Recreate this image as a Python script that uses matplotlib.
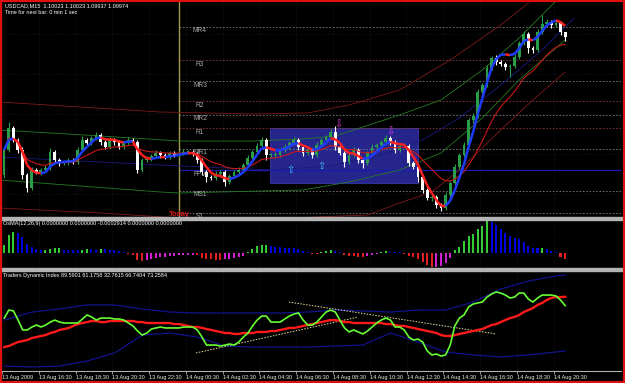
import numpy as np
import pandas as pd
import matplotlib
matplotlib.use("Agg")
import matplotlib.pyplot as plt
from matplotlib.patches import Rectangle
from matplotlib.collections import LineCollection

plt.rcParams['font.family'] = ['Liberation Sans', 'DejaVu Sans']

# USDCAD M15, prices kept as pips above BASE
BASE = 1.0800
first_open = 59
close_pips = [84, 106, 94, 84, 59, 46, 64, 62, 64, 66,
              82, 74, 71, 71, 74, 72, 84, 94, 91, 96,
              99, 92, 87, 94, 92, 87, 91, 94, 92, 64,
              74, 75, 78, 81, 79, 77, 81, 79, 81, 82,
              82, 80, 74, 62, 57, 56, 60, 62, 52, 58,
              62, 64, 69, 76, 82, 88, 94, 79, 79, 79,
              84, 87, 91, 94, 87, 81, 84, 79, 89, 94,
              97, 102, 87, 81, 72, 79, 84, 74, 71, 81,
              87, 89, 92, 96, 92, 84, 88, 88, 71, 67,
              57, 44, 36, 37, 29, 26, 39, 51, 67, 79,
              89, 114, 118, 142, 149, 166, 176, 172, 170, 167,
              168, 177, 191, 200, 186, 184, 202, 210, 212, 209,
              211, 202, 197]
wick_up = [3, 6, 2, 2, 3, 2, 3, 2, 2, 3,
           4, 2, 2, 1, 2, 2, 3, 4, 2, 2,
           3, 2, 2, 3, 2, 2, 2, 3, 2, 2,
           2, 3, 2, 3, 2, 2, 2, 2, 2, 3,
           2, 2, 2, 2, 2, 2, 3, 2, 2, 2,
           2, 3, 2, 3, 2, 3, 3, 2, 2, 3,
           2, 3, 2, 3, 2, 2, 3, 2, 3, 2,
           2, 3, 6, 2, 2, 2, 3, 2, 2, 2,
           3, 2, 2, 3, 2, 2, 3, 2, 2, 2,
           2, 2, 2, 2, 2, 2, 3, 2, 3, 2,
           3, 2, 3, 3, 2, 3, 2, 3, 2, 2,
           2, 3, 2, 3, 2, 2, 3, 9, 3, 2,
           2, 2, 0]
wick_dn = [3, 2, 2, 3, 4, 4, 2, 2, 3, 2,
           2, 2, 3, 2, 2, 2, 2, 2, 3, 2,
           2, 3, 2, 2, 3, 2, 2, 2, 2, 3,
           2, 2, 2, 2, 3, 2, 2, 2, 2, 2,
           2, 2, 3, 3, 5, 2, 2, 3, 4, 2,
           2, 2, 2, 2, 2, 2, 2, 5, 2, 3,
           2, 2, 2, 2, 3, 3, 2, 3, 2, 2,
           2, 2, 3, 2, 5, 2, 2, 3, 5, 2,
           2, 2, 2, 2, 3, 3, 2, 2, 3, 2,
           5, 3, 2, 3, 3, 3, 2, 2, 2, 2,
           2, 2, 3, 2, 2, 2, 2, 3, 2, 3,
           10, 2, 2, 2, 5, 3, 2, 2, 2, 3,
           2, 3, 4]

pivot_names = ['MR4', 'R3', 'MR3', 'R2', 'MR2', 'R1', 'MR1', 'FPV', 'MS1', 'S1']
pivot_pips = [207, 174, 153, 133, 119, 106, 85, 64, 43, 21]

# regression channel curves (bar index, pips)
green_up_bar = [-1, 21, 38, 54, 65, 72, 86, 95, 104, 112, 120]
green_up_pips = [104, 98, 93, 93, 95, 98, 119, 134, 164, 196, 233]
green_dn_bar = [-1, 34, 38, 65, 75, 86, 95, 104, 112, 122]
green_dn_pips = [54, 42, 41, 44, 52, 64, 81, 116, 154, 194]
red_up_bar = [-1, 34, 54, 66, 75, 86, 97, 108, 114]
red_up_pips = [132, 122, 120, 121, 129, 144, 174, 209, 231]
red_dn_bar = [-1, 21, 38, 62, 79, 86, 93, 99, 108, 115, 122]
red_dn_pips = [26, 21, 16, 16, 19, 31, 42, 64, 104, 134, 162]
blue_mid_bar = [-1, 34, 58, 71, 82, 91, 99, 108, 117, 124]
blue_mid_pips = [77, 69, 64, 68, 79, 94, 116, 149, 184, 216]

up_arrow_bar = [62.2, 69.0]
up_arrow_pips = [64, 68]
dn_arrow_bar = [72.6, 84.0]
dn_arrow_pips = [110, 103]

# OsMA(12,26,9), units of 1e-5
osma = [8, 18, 21, 20, 16, 9, 6, 4, 3, 3.2,
        3.6, 4.8, 5.2, 3.5, 3.3, 3.1, 2.8, 3.3, 4.2, 3.8,
        3.4, 4.5, 4.0, 3.5, 3.0, 2.2, 0.8, -0.8, -2, -6.5,
        -8, -7.2, -6.2, -5.2, -4.4, -3.8, -3.2, -2.8, -2.4, -2.1,
        -1.8, -1.6, -2.2, -4.5, -5.5, -6.2, -6.8, -7.0, -6.4, -5.8,
        -5.0, -4.2, -3.0, 1.5, 4.5, 7, 8, 8.3, 7.2, 6.4,
        5.8, 5.4, 5.1, 4.8, 4.0, 2.5, 1.2, -0.6, -1.0, 0.8,
        2, 3.2, 2.2, 0.8, -1.8, -2.6, -3.2, -3.8, -4.2, -3.4,
        -2.4, -1.2, 0.8, 1.8, 1.4, 1.0, 0.6, -0.8, -2.5, -4,
        -6, -9, -12, -14, -13.8, -12.5, -10, -5, 3, 6,
        12, 17, 19, 24, 27, 32, 31, 28, 24, 20,
        17, 15, 14, 11, 7, 5, 4.6, 5.0, 3.8, 2.2,
        1, -4, -6]

# Traders Dynamic Index
tdi_green = [57.4, 63.4, 62.7, 55.9, 48.5, 48.5, 50.7, 52.2, 50.7, 52.2,
             54.4, 55.9, 54.4, 53.7, 53.7, 53.7, 53.7, 56.7, 59.7, 58.2,
             55.9, 57.4, 57.4, 57.4, 56.7, 56.7, 55.9, 53.7, 51.5, 47.7,
             44.7, 46.2, 49.2, 50.0, 50.7, 50.0, 50.0, 50.0, 50.0, 50.7,
             50.7, 50.7, 48.5, 43.2, 37.2, 37.2, 37.2, 36.5, 37.2, 38.0,
             37.2, 39.5, 43.2, 46.2, 51.5, 55.9, 58.9, 58.9, 54.4, 54.4,
             54.4, 56.7, 58.9, 60.4, 61.2, 55.9, 52.2, 52.2, 54.4, 58.2,
             61.9, 63.4, 61.9, 55.9, 50.0, 47.0, 48.5, 47.0, 45.5, 47.7,
             50.7, 53.7, 55.9, 57.4, 55.9, 50.7, 50.7, 48.5, 43.2, 41.0,
             41.7, 39.5, 32.8, 29.8, 30.5, 29.0, 29.8, 37.2, 51.5, 57.4,
             59.7, 65.7, 67.9, 68.7, 69.4, 73.1, 75.4, 76.9, 76.1, 74.6,
             72.4, 73.1, 76.1, 76.1, 71.6, 69.4, 72.4, 74.6, 74.6, 74.6,
             73.9, 70.9, 66.7]
tdi_red = [35.7, 36.5, 38.0, 39.5, 40.2, 41.0, 42.5, 43.2, 44.0, 44.7,
           46.2, 47.0, 48.5, 49.2, 50.0, 51.5, 52.9, 53.7, 54.4, 55.2,
           55.2, 54.4, 54.4, 55.2, 55.2, 55.2, 55.2, 55.2, 55.2, 54.4,
           54.4, 53.7, 53.7, 53.7, 53.7, 53.7, 53.7, 52.9, 52.9, 52.2,
           51.5, 50.7, 50.7, 50.0, 49.2, 48.5, 47.7, 47.0, 46.2, 46.2,
           45.5, 45.5, 46.2, 46.2, 46.2, 47.0, 47.0, 47.0, 47.7, 47.7,
           48.5, 49.2, 50.0, 50.0, 50.7, 51.5, 52.2, 52.9, 53.7, 54.4,
           55.2, 55.9, 55.9, 55.2, 54.4, 54.4, 53.7, 53.7, 53.7, 53.7,
           53.7, 53.7, 53.7, 52.9, 52.9, 52.2, 51.5, 51.5, 50.7, 50.0,
           49.2, 48.5, 47.7, 47.0, 46.2, 44.7, 44.0, 44.0, 44.7, 45.5,
           46.2, 47.0, 47.7, 48.5, 49.2, 50.7, 52.2, 52.9, 54.4, 55.9,
           57.4, 58.2, 59.7, 61.9, 63.4, 64.9, 67.2, 68.7, 70.9, 72.4,
           73.1, 73.1, 73.3]
band_bar = [0, 6, 12, 18, 24, 30, 36, 42, 48, 54, 60, 66, 72, 78, 84, 90, 96, 102, 108, 114, 120, 122]
band_up = [55.9, 61.9, 64.2, 67.2, 67.2, 64.2, 61.9, 61.2, 61.2, 61.2, 61.2,
           61.9, 63.4, 62.7, 61.9, 63.4, 63.4, 69.4, 79.1, 85.1, 88.9, 89.6]
band_dn = [21.5, 20.8, 21.5, 25.3, 31.3, 44.7, 46.2, 43.2, 36.5, 35.7, 35.7,
           35.7, 36.5, 37.2, 46.2, 39.5, 32.0, 29.8, 28.3, 29.8, 32.0, 32.8]
trend1_bar, trend1_val = [41.7, 77.0], [31.3, 58.2]
trend2_bar, trend2_val = [61.9, 107.0], [69.4, 45.5]

time_labels = ['13 Aug 2009', '13 Aug 16:30', '13 Aug 18:30', '13 Aug 20:30',
               '13 Aug 22:30', '14 Aug 00:30', '14 Aug 02:30', '14 Aug 04:30',
               '14 Aug 06:30', '14 Aug 08:30', '14 Aug 10:30', '14 Aug 12:30',
               '14 Aug 14:30', '14 Aug 16:30', '14 Aug 18:30', '14 Aug 20:30']

W, H = 625, 383
fig = plt.figure(figsize=(W / 100, H / 100), dpi=100, facecolor='black')


def px_axes(top, bottom):
    ax = fig.add_axes([2 / W, 1 - bottom / H, 619 / W, (bottom - top) / H])
    ax.set_facecolor('black')
    ax.set_xlim(-0.45, 134.15)
    for s in ax.spines.values():
        s.set_visible(False)
    ax.tick_params(left=False, labelleft=False, bottom=False, labelbottom=False)
    for b in range(0, 121, 8):
        ax.axvline(b - 0.5, color='#1a1a34', lw=0.5, ls=':', zorder=0)
    return ax


def price(p):
    return BASE + np.asarray(p, dtype=float) / 1e4


ax1 = px_axes(2, 217)
ax2 = px_axes(220, 268)
ax3 = px_axes(271, 371)

# ---- main chart ----
n = len(close_pips)
idx = np.arange(n)
c = price(close_pips)
o = price([first_open] + close_pips[:-1])
hi = np.maximum(o, c) + np.array(wick_up) / 1e4
lo = np.minimum(o, c) - np.array(wick_dn) / 1e4
ax1.set_ylim(price(17), price(232))
for lv in range(40, 232, 40):
    ax1.axhline(price(lv), color='#1a1a34', lw=0.5, ls=':', zorder=0)

ax1.add_patch(Rectangle((57.8, price(51)), 32.2, 55 / 1e4, facecolor='#2a2a9c',
                        edgecolor='#3c3cb4', lw=0.6, alpha=0.9, zorder=1))

for name, lv in zip(pivot_names, pivot_pips):
    if name == 'FPV':
        ax1.hlines(price(lv), 38, 134.15, colors='#1c1cb0', lw=0.9, zorder=2)
    else:
        col = '#8a3434' if name.startswith('R') else '#7c7c7c'
        ax1.hlines(price(lv), 38, 134.15, colors=col, lw=0.6, linestyles=(0, (2, 2)), zorder=2)
    ax1.text(42.6, price(lv - 4), name, color='#a8a8a8', fontsize=4.8, ha='center', va='center', zorder=3)

ax1.axvline(38, color='#a09a50', lw=1.0, zorder=2)
ax1.text(38, price(19), 'Today', color='#e01818', fontsize=5.2, fontweight='bold',
         ha='center', va='center', zorder=3)

ax1.plot(green_up_bar, price(green_up_pips), color='#267a26', lw=0.6, zorder=2)
ax1.plot(green_dn_bar, price(green_dn_pips), color='#267a26', lw=0.6, zorder=2)
ax1.plot(red_up_bar, price(red_up_pips), color='#7e1a1a', lw=0.6, zorder=2)
ax1.plot(red_dn_bar, price(red_dn_pips), color='#7e1a1a', lw=0.6, zorder=2)
ax1.plot(blue_mid_bar, price(blue_mid_pips), color='#1a1a80', lw=0.6, zorder=2)

up = c >= o
body_col = np.where(up, '#2a9d48', '#ffffff')
ax1.vlines(idx, lo, hi, colors=body_col, lw=0.8, zorder=3)
ax1.bar(idx, np.maximum(np.abs(c - o), 0.00006), bottom=np.minimum(o, c), width=0.62,
        color=body_col, linewidth=0, zorder=4)

s = pd.Series(c)
slow_ma = s.ewm(span=14).mean().values
ax1.plot(idx, slow_ma, color='#c81818', lw=0.8, zorder=5)
hma = (2 * s.ewm(span=4).mean() - s.ewm(span=8).mean()).ewm(span=3).mean().values
segs = [[(idx[i], hma[i]), (idx[i + 1], hma[i + 1])] for i in range(n - 1)]
seg_col = ['#1e3cff' if hma[i + 1] >= hma[i] else '#ff2020' for i in range(n - 1)]
ax1.add_collection(LineCollection(segs, colors=seg_col, linewidths=1.8, zorder=6))

for b, p in zip(up_arrow_bar, up_arrow_pips):
    ax1.text(b, price(p), '\u21e7', color='#40c8ff', fontsize=7, ha='center', va='center',
             family='DejaVu Sans', zorder=7)
for b, p in zip(dn_arrow_bar, dn_arrow_pips):
    ax1.text(b, price(p), '\u21e9', color='#e040e0', fontsize=7, ha='center', va='center',
             family='DejaVu Sans', zorder=7)

# ---- OsMA ----
ax2.set_ylim(-15, 33)
osma_col = []
for i, v in enumerate(osma):
    prev = osma[i - 1] if i else 0
    if v >= 0:
        osma_col.append('#32cd32' if v >= prev else '#0000e0')
    else:
        osma_col.append('#e02020' if v <= prev else '#d020d0')
ax2.bar(idx, osma, width=0.45, color=osma_col, linewidth=0, zorder=2)

# ---- TDI ----
ax3.set_ylim(17.8, 92.6)
ax3.plot(band_bar, band_up, color='#12128e', lw=0.9, zorder=2)
ax3.plot(band_bar, band_dn, color='#12128e', lw=0.9, zorder=2)
ax3.plot(trend1_bar, trend1_val, color='#e8e0a0', lw=0.7, ls=(0, (1.5, 1.5)), zorder=3)
ax3.plot(trend2_bar, trend2_val, color='#e8e0a0', lw=0.7, ls=(0, (1.5, 1.5)), zorder=3)
ax3.plot(idx, tdi_red, color='#ff1a1a', lw=1.7, zorder=4)
ax3.plot(idx, tdi_green, color='#66ff33', lw=1.2, zorder=5)
ax3.spines['bottom'].set_visible(True)
ax3.spines['bottom'].set_color('#b0b0b0')
ax3.set_xticks(np.arange(0, 121, 8) - 0.5)
ax3.set_xticklabels(time_labels)
ax3.tick_params(bottom=True, labelbottom=True, length=2, width=0.6, color='#b0b0b0',
                labelcolor='#e8e8e8', labelsize=4, pad=1)
for t in ax3.get_xticklabels():
    t.set_ha('left')

# ---- texts, separators, border ----
fig.text(5 / W, 1 - 6 / H, 'USDCAD,M15  1.10023 1.10023 1.09937 1.09974', color='white',
         fontsize=4, va='center')
fig.text(5 / W, 1 - 13 / H, 'Time for next bar: 0 min 1 sec', color='white', fontsize=4, va='center')
fig.text(3 / W, 1 - 224 / H, 'OsMA(12,26,9) 0.0000000 0.0000000 -0.0002914 0.0000000 0.0000000',
         color='white', fontsize=4, va='center')
fig.text(3 / W, 1 - 275.5 / H, 'Traders Dynamic Index 89.5901 61.1758 32.7615 66.7404 73.2584',
         color='white', fontsize=4, va='center')
for top in (217, 268):
    fig.patches.append(Rectangle((0, 1 - (top + 3) / H), 1, 3 / H, transform=fig.transFigure,
                                 color='#b4b4b4', zorder=5))
fig.patches.append(Rectangle((0, 0), 1, 1, transform=fig.transFigure, fill=False,
                             edgecolor='#e01010', lw=3, zorder=10))

fig.savefig('out.png', dpi=100, facecolor='black')
